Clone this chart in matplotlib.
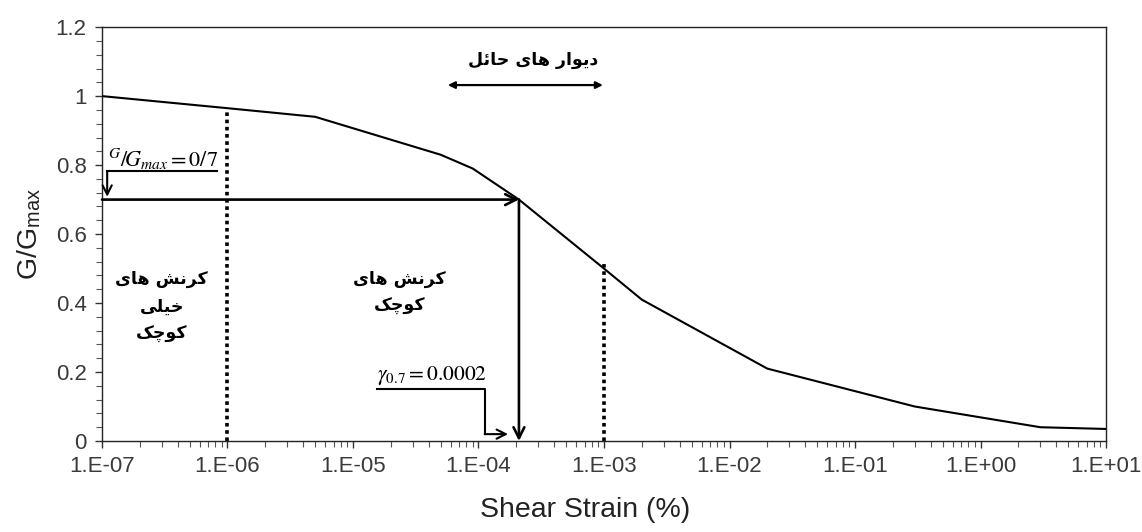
import matplotlib.pyplot as plt
from matplotlib.ticker import FixedLocator, MultipleLocator, LogLocator, NullFormatter

# G/Gmax degradation curve
strain = [1e-7, 1e-6, 5e-6, 5e-5, 9e-5, 2.1e-4, 1e-3, 2e-3, 2e-2, 3e-1, 3.0, 10.0]
g_ratio = [1.0, 0.965, 0.94, 0.83, 0.79, 0.70, 0.50, 0.41, 0.21, 0.10, 0.04, 0.035]

x_ticks = [1e-7, 1e-6, 1e-5, 1e-4, 1e-3, 1e-2, 1e-1, 1e0, 1e1]
x_labels = ["1.E-07", "1.E-06", "1.E-05", "1.E-04", "1.E-03", "1.E-02", "1.E-01", "1.E+00", "1.E+01"]
y_ticks = [0, 0.2, 0.4, 0.6, 0.8, 1.0, 1.2]
y_labels = ["0", "0.2", "0.4", "0.6", "0.8", "1", "1.2"]

g_ref = 0.70        # G/Gmax = 0.7
gamma_ref = 2.1e-4  # strain where the curve crosses 0.7
very_small_limit = 1e-6
small_limit = 1e-3
very_small_top = 0.965
small_top = 0.52

title_retaining = "دیوار های حائل"
label_very_small = "کرنش های\nخیلی\nکوچک"
label_small = "کرنش های\nکوچک"


# --- minimal Arabic/Persian shaping (matplotlib 3.10 has no text shaping) ---
# char: (isolated, final, initial, medial); None for initial/medial = does not join left
FORMS = {
    "ا": ("\uFE8D", "\uFE8E", None, None),
    "د": ("\uFEA9", "\uFEAA", None, None),
    "ر": ("\uFEAD", "\uFEAE", None, None),
    "و": ("\uFEED", "\uFEEE", None, None),
    "ه": ("\uFEE9", "\uFEEA", "\uFEEB", "\uFEEC"),
    "ح": ("\uFEA1", "\uFEA2", "\uFEA3", "\uFEA4"),
    "خ": ("\uFEA5", "\uFEA6", "\uFEA7", "\uFEA8"),
    "ئ": ("\uFE89", "\uFE8A", "\uFE8B", "\uFE8C"),
    "ل": ("\uFEDD", "\uFEDE", "\uFEDF", "\uFEE0"),
    "ن": ("\uFEE5", "\uFEE6", "\uFEE7", "\uFEE8"),
    "ش": ("\uFEB5", "\uFEB6", "\uFEB7", "\uFEB8"),
    "ی": ("\uFBFC", "\uFBFD", "\uFBFE", "\uFBFF"),
    "ک": ("\uFB8E", "\uFB8F", "\uFB90", "\uFB91"),
    "چ": ("\uFB7A", "\uFB7B", "\uFB7C", "\uFB7D"),
}


def shape_line(s):
    out = []
    for i, ch in enumerate(s):
        if ch not in FORMS:
            out.append(ch)
            continue
        prev = s[i - 1] if i > 0 else ""
        nxt = s[i + 1] if i + 1 < len(s) else ""
        joins_prev = prev in FORMS and FORMS[prev][2] is not None
        joins_next = nxt in FORMS and FORMS[ch][2] is not None
        iso, fin, ini, med = FORMS[ch]
        if joins_prev and joins_next:
            out.append(med)
        elif joins_prev:
            out.append(fin)
        elif joins_next:
            out.append(ini)
        else:
            out.append(iso)
    return "".join(out)[::-1]


def fa(text):
    return "\n".join(shape_line(line) for line in text.split("\n"))


plt.rcParams["font.family"] = ["Liberation Sans", "DejaVu Sans"]
plt.rcParams["mathtext.fontset"] = "stix"

fig = plt.figure(figsize=(11.42, 5.32), dpi=100)
ax = fig.add_axes([0.0893, 0.171, 0.8792, 0.778])

ax.plot(strain, g_ratio, color="black", lw=1.5, zorder=3)
ax.set_xscale("log")
ax.set_xlim(1e-7, 1e1)
ax.set_ylim(0, 1.2)

# ticks
ax.xaxis.set_major_locator(FixedLocator(x_ticks))
ax.set_xticklabels(x_labels)
ax.xaxis.set_minor_locator(LogLocator(base=10, subs=range(2, 10), numticks=20))
ax.xaxis.set_minor_formatter(NullFormatter())
ax.set_yticks(y_ticks)
ax.set_yticklabels(y_labels)
ax.yaxis.set_minor_locator(MultipleLocator(0.04))
ax.tick_params(axis="both", which="major", direction="out", length=5, width=1,
               labelsize=16, colors="#333333", labelcolor="#3a3a3a", pad=6)
ax.tick_params(axis="both", which="minor", direction="out", length=4, width=0.8, colors="#555555")
for sp in ax.spines.values():
    sp.set_linewidth(1.0)
    sp.set_color("#222222")

ax.set_xlabel("Shear Strain (%)", fontsize=20.5, color="#222222")
ax.xaxis.set_label_coords(0.481, -0.135)
ax.set_ylabel(r"G/G$_{\mathregular{max}}$", fontsize=20.5, color="#222222")
ax.yaxis.set_label_coords(-0.058, 0.5)

# dotted boundaries
ax.plot([very_small_limit, very_small_limit], [0, very_small_top], color="black",
        lw=2.6, linestyle=(0, (1, 1)), zorder=2)
ax.plot([small_limit, small_limit], [0, small_top], color="black",
        lw=2.6, linestyle=(0, (1, 1)), zorder=2)

# G/Gmax = 0.7 arrow and gamma_0.7 arrow
arrow_kw = dict(arrowstyle="->,head_length=0.6,head_width=0.3", color="black", lw=1.9,
                mutation_scale=13, shrinkA=0, shrinkB=0)
ax.annotate("", xy=(gamma_ref, g_ref), xytext=(1e-7, g_ref), arrowprops=arrow_kw, zorder=4)
ax.annotate("", xy=(gamma_ref, 0), xytext=(gamma_ref, g_ref), arrowprops=arrow_kw, zorder=4)

# bracket leaders
thin_kw = dict(arrowstyle="->,head_length=0.6,head_width=0.3", color="black", lw=1.5,
               mutation_scale=11, shrinkA=0, shrinkB=0)
ax.plot([8.2e-7, 1.1e-7], [0.783, 0.783], color="black", lw=1.5)
ax.annotate("", xy=(1.1e-7, 0.708), xytext=(1.1e-7, 0.783), arrowprops=thin_kw)
ax.text(1.12e-7, 0.818, r"${}^{G}/\!G_{max} = 0/7$", fontsize=16, va="center", ha="left")

ax.plot([1.55e-5, 1.12e-4, 1.12e-4], [0.151, 0.151, 0.02], color="black", lw=1.5)
ax.annotate("", xy=(1.72e-4, 0.02), xytext=(1.12e-4, 0.02), arrowprops=thin_kw)
ax.text(1.55e-5, 0.19, r"$\gamma_{0.7} = 0.0002$", fontsize=15.5, va="center", ha="left")

# retaining walls range
ax.annotate("", xy=(5.7e-5, 1.032), xytext=(9.8e-4, 1.032),
            arrowprops=dict(arrowstyle="<|-|>", color="black", lw=1.6, mutation_scale=10,
                            shrinkA=0, shrinkB=0))

fa_font = ["DejaVu Sans"]
ax.text(2.7e-4, 1.104, fa(title_retaining), fontsize=12.5, fontweight="bold",
        ha="center", va="center", family=fa_font)
ax.text(3.0e-7, 0.39, fa(label_very_small), fontsize=12.5, fontweight="bold",
        ha="center", va="center", multialignment="center", linespacing=1.65, family=fa_font)
ax.text(2.36e-5, 0.43, fa(label_small), fontsize=12.5, fontweight="bold",
        ha="center", va="center", multialignment="center", linespacing=1.65, family=fa_font)

fig.savefig("out.png", dpi=100)
